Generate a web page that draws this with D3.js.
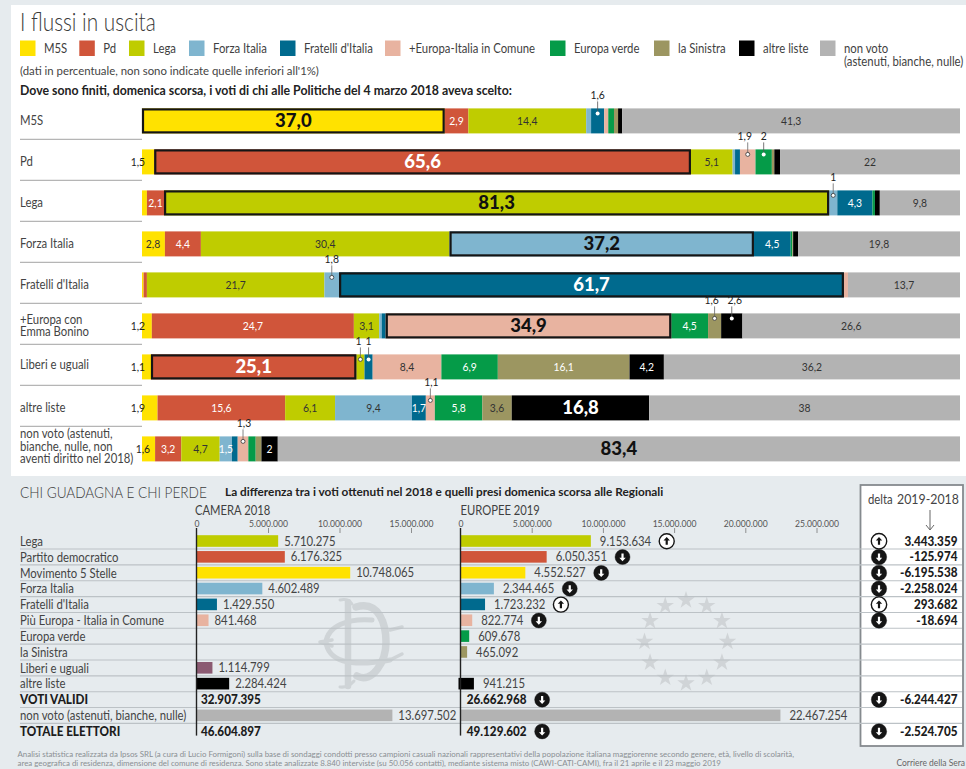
<!DOCTYPE html>
<html><head><meta charset="utf-8">
<script src="https://cdn.jsdelivr.net/npm/d3@7/dist/d3.min.js"></script>
<style>
html,body{margin:0;padding:0;background:#fff}
svg{display:block}
text{font-family:"Lato",sans-serif;fill:#333}
</style></head><body><div id="c"></div>
<script>
// ---------- data ----------
const partyKeys=["M5S","Pd","Lega","Forza Italia","Fratelli d'Italia","+Europa-Italia in Comune","Europa verde","la Sinistra","altre liste","non voto"];
const partyColors=["#ffe200","#d0553a","#bfcc00","#7fb5cf","#006a8e","#e8b3a0","#059b48","#9c9661","#000000","#b3b3b3"];
const rowLabels=[["M5S"],["Pd"],["Lega"],["Forza Italia"],["Fratelli d'Italia"],["+Europa con","Emma Bonino"],["Liberi e uguali"],["altre liste"],["non voto (astenuti,","bianche, nulle, non","aventi diritto nel 2018)"]];
const flowM5S=[37.0,2.9,14.4,0.6,1.6,0.5,0.7,0.5,0.5,41.3];
const flowPd=[1.5,65.6,5.1,0.3,0.6,1.9,2,0.3,0.7,22];
const flowLega=[0.6,2.1,81.3,1,4.3,0,0.3,0,0.6,9.8];
const flowFI=[2.8,4.4,30.4,37.2,4.5,0,0.2,0.1,0.6,19.8];
const flowFdI=[0.2,0.4,21.7,1.8,61.7,0.5,0,0,0,13.7];
const flowEuropa=[1.2,24.7,3.1,0.3,0.5,34.9,4.5,1.6,2.6,26.6];
const flowLeU=[1.1,25.1,1,0,1,8.4,6.9,16.1,4.2,36.2];
const flowAltre=[1.9,15.6,6.1,9.4,1.7,1.1,5.8,3.6,16.8,38];
const flowNonVoto=[1.6,3.2,4.7,1.5,0.7,1.3,0.9,0.7,2,83.4];
const flows=[flowM5S,flowPd,flowLega,flowFI,flowFdI,flowEuropa,flowLeU,flowAltre,flowNonVoto];
const boxedSeg=[0,1,2,3,4,5,1,null,null];
const boldSeg=[0,1,2,3,4,5,1,8,9];
const calloutSegs=["0-4","1-5","1-6","2-3","4-3","5-7","5-8","6-2","6-4","7-5","8-5"];

const voteLabels=["Lega","Partito democratico","Movimento 5 Stelle","Forza Italia","Fratelli d'Italia","Più Europa - Italia in Comune","Europa verde","la Sinistra","Liberi e uguali","altre liste","VOTI VALIDI","non voto (astenuti, bianche, nulle)","TOTALE ELETTORI"];
const voteColors=["#bfcc00","#d0553a","#ffe200","#7fb5cf","#006a8e","#e8b3a0","#059b48","#9c9661","#8b5a72","#000000",null,"#b3b3b3",null];
const votes2018=[5710275,6176325,10748065,4602489,1429550,841468,null,null,1114799,2284424,32907395,13697502,46604897];
const votes2019=[9153634,6050351,4552527,2344465,1723232,822774,609678,465092,null,941215,26662968,22467254,49129602];
const voteDelta=[3443359,-125974,-6195538,-2258024,293682,-18694,null,null,null,null,-6244427,null,-2524705];
const ticks2018=[0,5000000,10000000,15000000];
const ticks2019=[0,5000000,10000000,15000000,20000000,25000000];

// ---------- setup ----------
const legendX=[20,79.3,129,189,280,385,550,654,739,820];
const calloutShift={"5-7":-3,"5-8":3,"1-5":-3,"6-2":-2,"7-5":1,"8-5":1};
const W=966,H=769;
const svg=d3.select("#c").append("svg").attr("width",W).attr("height",H);
const bg="#e6ebee";
svg.append("rect").attr("width",W).attr("height",H).attr("fill",bg);
svg.append("rect").attr("x",11).attr("y",5).attr("width",W-11).attr("height",471).attr("fill","#fff");
const txt=(x,y,s,size,o={})=>{
  const t=svg.append("text").attr("font-size",size)
    .attr("font-weight",o.w||400).attr("text-anchor",o.a||"start").style("fill",o.c||"#333").text(s);
  const sq=o.sq===undefined?((o.w||400)>=700?.93:.9):o.sq;
  t.node().__w=t.node().getComputedTextLength()*sq;
  t.attr("transform",`translate(${x},${y}) scale(${sq},1)`);
  return t;
};

txt(20,31,"I flussi in uscita",26,{w:300,c:"#3a3a3a",sq:.8});
// legend
partyKeys.forEach((k,i)=>{
  svg.append("rect").attr("x",legendX[i]).attr("y",40.5).attr("width",15.5).attr("height",15.5).attr("fill",partyColors[i]);
  txt(legendX[i]+24,52.7,i===9?"non voto":k,12.6,{c:"#3f3f3f"});
});
txt(844,65.5,"(astenuti, bianche, nulle)",12.6,{c:"#3f3f3f"});
txt(20,74.5,"(dati in percentuale, non sono indicate quelle inferiori all'1%)",11.8,{c:"#444",sq:.965});
txt(20,95,"Dove sono finiti, domenica scorsa, i voti di chi alle Politiche del 4 marzo 2018 aveva scelto:",12.3,{w:700,c:"#222",sq:1});

// ---------- stacked flows ----------
const x=d3.scaleLinear().domain([0,100]).range([142,960]);
const rowIdx=d3.range(flows.length);
const y=d3.scaleBand().domain(rowIdx).range([108.4,108.4+8*41+25]).paddingInner(16/41).paddingOuter(0);
const table=flows.map(f=>Object.fromEntries(partyKeys.map((k,i)=>[k,f[i]])));
const stacked=d3.stack().keys(partyKeys)(table);
const comma=v=>String(v).replace(".",",");
rowIdx.forEach(r=>{
  const top=y(r);
  const center=[12,12,12,12,12,12,10,12,10][r]+top;
  const lines=rowLabels[r];
  const lh=12.4;
  const y0=center+4.3-(lines.length-1)*lh/2;
  lines.forEach((l,i)=>txt(20,y0+i*lh,l,12.6,{c:"#444"}));
  if(r<8) svg.append("line").attr("x1",20).attr("x2",142).attr("y1",top+31).attr("y2",top+31).attr("stroke","#b5b5b5").attr("stroke-width",1.3);
});
stacked.forEach((layer,s)=>{
  layer.forEach((d,r)=>{
    const v=flows[r][s]; if(!v) return;
    svg.append("rect").attr("x",x(d[0])).attr("y",y(r)).attr("width",x(d[1])-x(d[0])).attr("height",y.bandwidth()).attr("fill",partyColors[s]);
  });
});
stacked.forEach((layer,s)=>{
  layer.forEach((d,r)=>{
    const v=flows[r][s]; if(!v) return;
    const x0=x(d[0]),x1=x(d[1]),top=y(r),bh=y.bandwidth(),cx=(x0+x1)/2,mid=top+bh/2;
    if(boxedSeg[r]===s){
      svg.append("rect").attr("x",x0+1).attr("y",top+1).attr("width",x1-x0-2).attr("height",bh-2)
        .attr("fill","none").attr("stroke","#151515").attr("stroke-width",2.2);
    }
    if(v<1) return;
    const light=s===1||s===6||s===8||(s===4)||(s===7&&v>=5)||(s===3&&v<2);
    const key=r+"-"+s;
    if(boldSeg[r]===s){
      txt(cx,mid+6.5,v.toFixed(1).replace(".",","),18.5,{w:900,a:"middle",c:light?"#fff":"#111",sq:1});
    }else if(calloutSegs.includes(key)){
      const ds=(s===4||s===6||s===8);
      svg.append("line").attr("x1",cx).attr("x2",cx).attr("y1",top-7).attr("y2",top+5).attr("stroke",ds?"#555":"#666").attr("stroke-width",.8);
      svg.append("circle").attr("cx",cx).attr("cy",top+5).attr("r",2)
        .attr("fill","#fff").attr("stroke",ds?"none":"#333").attr("stroke-width",.8);
      txt(cx+(calloutShift[key]||0),top-9,comma(v),11.5,{a:"middle",c:"#222"});
    }else if(s===0&&v<2){
      txt(r===8?150:145,mid+4.3,comma(v),11.5,{a:"end",c:"#222"});
    }else{
      txt(s===0?cx-.5:cx,mid+4.3,comma(v),11.5,{a:"middle",c:light?"#fff":"#333"});
    }
  });
});

// ---------- lower panel ----------
txt(20,497.5,"CHI GUADAGNA E CHI PERDE",16,{w:300,c:"#3c3c3c",sq:.85});
txt(225,496,"La differenza tra i voti ottenuti nel 2018 e quelli presi domenica scorsa alle Regionali",11.8,{w:700,c:"#222",sq:1});
txt(195,515,"CAMERA 2018",12.5,{c:"#3f3f3f"});
txt(460.5,515,"EUROPEE 2019",12.5,{c:"#3f3f3f"});

// watermarks
const wm="#cfd4d7";
const mono=svg.append("g").attr("transform","translate(310,590)").attr("fill","none").attr("stroke",wm).attr("stroke-linecap","round");
mono.append("path").attr("stroke-width",6.5).attr("d","M38,12 L38,96");
mono.append("path").attr("stroke-width",3).attr("d","M30,10 Q38,8 42,14 M30,97 Q38,98 44,91");
mono.append("path").attr("stroke-width",7.5).attr("d","M46,17 C70,10 76,36 76,52 C76,72 62,94 47,86");
mono.append("path").attr("stroke-width",5).attr("d","M62,30 C38,28 18,36 16,52 C18,70 38,78 80,70");
mono.append("path").attr("stroke-width",3.5).attr("d","M10,52 L22,50 M10,52 L22,56 M80,40 L92,37 M80,70 L92,64");
const starX=686,starY=641.7,starR=41.5;
const star=d3.symbol().type(d3.symbolStar).size(95);
d3.range(12).forEach(i=>{
  const a=i*Math.PI/6;
  svg.append("path").attr("d",star()).attr("fill","#d0d4d7")
    .attr("transform",`translate(${starX+starR*Math.sin(a)},${starY-starR*Math.cos(a)})`);
});

// delta box
svg.append("rect").attr("x",860.5).attr("y",485).attr("width",102.5).attr("height",261).attr("fill","#fff").attr("stroke","#858a8e").attr("stroke-width",1.8);

// row lines + rows
const rowStep=15.85;
const ry=d3.scaleLinear().domain([0,1]).range([533.2,533.2+rowStep]);
voteLabels.forEach((l,i)=>{
  if(i<12) svg.append("line").attr("x1",20).attr("x2",962).attr("y1",ry(i+1)).attr("y2",ry(i+1)).attr("stroke","#bcc2c6").attr("stroke-width",1.1);
});
const it=d3.formatLocale({decimal:",",thousands:".",grouping:[3],currency:["",""],minus:"-"}).format(",d");
const x18=d3.scaleLinear().domain([0,15000000]).range([196.5,411]);
const x19=d3.scaleLinear().domain([0,25000000]).range([460.5,816.5]);
const mkAxis=(sc,t)=>{
  const g=svg.append("g").attr("transform","translate(0,533)").call(d3.axisTop(sc).tickValues(t).tickSize(5).tickPadding(1.5).tickFormat(it));
  g.select(".domain").remove();
  g.selectAll("line").attr("stroke","#777").attr("stroke-width",.8);
  g.selectAll("text").attr("font-size",8.6).style("fill","#555").style("font-family",'"Lato",sans-serif');
  g.selectAll(".tick").filter(d=>d===0).select("line").remove();
};
mkAxis(x18,ticks2018);mkAxis(x19,ticks2019);

const arrow=(cx,cy,up,r)=>{
  svg.append("circle").attr("cx",cx).attr("cy",cy).attr("r",r).attr("fill",up?"#fff":"#151515").attr("stroke","#151515").attr("stroke-width",up?1.4:0.4);
  svg.append("path").attr("d","M0,-4.2 L3.2,-0.8 L1.1,-0.8 L1.1,3.6 L-1.1,3.6 L-1.1,-0.8 L-3.2,-0.8Z")
    .attr("fill",up?"#151515":"#fff").attr("transform",`translate(${cx},${cy})${up?"":" scale(1,-1)"}`);
};
voteLabels.forEach((l,i)=>{
  const top=ry(i),bold=voteColors[i]===null;
  const cy=top+8;
  txt(20,cy+4.6,l,12.6,{w:bold?900:400,c:bold?"#1c1c1c":"#444"});
  const col=(vals,sc,gap,boldX,withArrow)=>{
    const v=vals[i]; if(v===null) return;
    let tx;
    if(bold) tx=boldX;
    else{
      svg.append("rect").attr("x",sc(0)-(i===9&&withArrow?2:0)).attr("y",top+2).attr("width",sc(v)-sc(0)+(i===9&&withArrow?2:0)).attr("height",11.6).attr("fill",voteColors[i]);
      tx=sc(v)+gap;
    }
    const t=txt(tx,cy+4.4,it(v),12.6,{w:bold?900:400,c:bold?"#1c1c1c":"#444"});
    if(withArrow&&voteDelta[i]!==null){
      arrow(tx+t.node().__w+15.5,cy,voteDelta[i]>0,7.5);
    }
  };
  col(votes2018,x18,6,201,false);
  col(votes2019,x19,9,466.7,true);
  if(voteDelta[i]!==null){
    arrow(879,cy,voteDelta[i]>0,7.7);
    txt(957.5,cy+4.4,it(voteDelta[i]),12.6,{w:900,a:"end",c:"#1c1c1c"});
  }
});
// axis lines
[x18,x19].forEach(s=>svg.append("line").attr("x1",s(0)).attr("x2",s(0)).attr("y1",528).attr("y2",735.6).attr("stroke","#222").attr("stroke-width",1.4));

// delta header
txt(868,504,"delta",12.6,{c:"#444"});
txt(897,504,"2019-2018",12.6,{c:"#444",sq:.98});
svg.append("path").attr("d","M930,510 L930,529 M926,525 L930,530 L934,525").attr("fill","none").attr("stroke","#555").attr("stroke-width",.9);

// footer
txt(17.5,756.5,"Analisi statistica realizzata da Ipsos SRL (a cura di Lucio Formigoni) sulla base di sondaggi condotti presso campioni casuali nazionali rappresentativi della popolazione italiana maggiorenne secondo genere, età, livello di scolarità,",7.9,{c:"#8a8f93",sq:1});
txt(17.5,765.5,"area geografica di residenza, dimensione del comune di residenza.  Sono state analizzate 8.840  interviste (su 50.056 contatti), mediante sistema misto (CAWI-CATI-CAMI), fra il 21 aprile e il 23 maggio 2019",7.9,{c:"#8a8f93",sq:1});
txt(965,766,"Corriere della Sera",10,{a:"end",c:"#666",sq:.85});
</script></body></html>
